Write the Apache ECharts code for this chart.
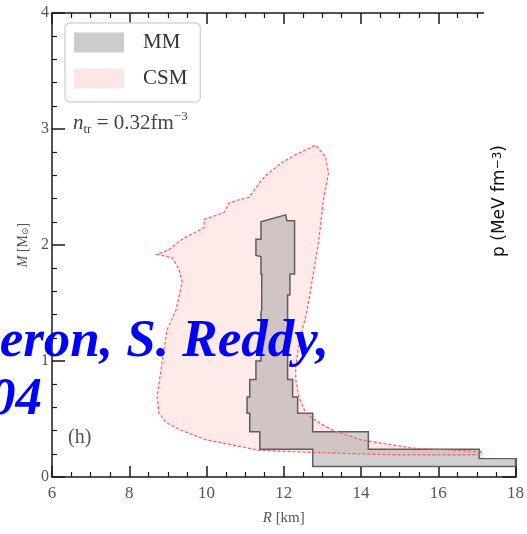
<!DOCTYPE html>
<html>
<head>
<meta charset="utf-8">
<script src="https://cdn.jsdelivr.net/npm/echarts@6/dist/echarts.min.js"></script>
<style>
html,body{margin:0;padding:0;background:#fff;}
#chart{width:527px;height:534px;}
</style>
</head>
<body>
<div id="chart"></div>
<script>
// ---- data (R in km, M in solar masses) ----
const xTicks = [6, 8, 10, 12, 14, 16, 18];
const yTicks = [0, 1, 2, 3, 4];
const seriesNames = ['MM', 'CSM'];

// CSM band boundary (closed polygon)
const csmR = [17.11, 15.30, 14.01, 13.29, 12.90, 12.57, 12.39, 12.31, 12.31, 12.41, 12.59, 12.70, 12.90, 13.03, 13.16, 13.08, 12.83,
              12.31, 11.95, 11.61, 11.43, 11.10, 10.84, 10.58, 10.45, 9.94, 9.94, 9.37, 9.03, 8.72, 9.11, 9.29, 9.37, 9.21,
              8.98, 8.85, 8.72, 8.77, 8.95, 9.29, 9.99, 10.92, 11.35, 12.90, 14.97, 17.11];
const csmM = [0.22, 0.25, 0.32, 0.40, 0.47, 0.55, 0.69, 0.84, 0.95, 1.18, 1.41, 1.62, 2.02, 2.39, 2.62, 2.76, 2.86,
              2.78, 2.71, 2.62, 2.56, 2.41, 2.39, 2.36, 2.28, 2.22, 2.15, 2.05, 1.96, 1.92, 1.89, 1.79, 1.68, 1.44,
              1.27, 0.99, 0.69, 0.55, 0.47, 0.41, 0.32, 0.26, 0.23, 0.21, 0.19, 0.19];

// MM band boundary (closed stepped polygon)
const mmR = [11.41, 12.05, 12.08, 12.28, 12.28, 12.16, 12.16, 12.10, 12.10, 12.23, 12.23, 12.36, 12.36, 12.75, 12.75, 14.19, 14.19,
             17.06, 17.06, 18.00, 18.00, 12.75, 12.75, 11.38, 11.38, 11.12, 11.12, 11.05, 11.05, 11.12, 11.12, 11.28, 11.28,
             11.41, 11.41, 11.43, 11.43, 11.41, 11.41, 11.28, 11.28, 11.41];
const mmM = [2.20, 2.26, 2.21, 2.21, 1.75, 1.75, 1.57, 1.57, 0.84, 0.84, 0.69, 0.69, 0.55, 0.55, 0.39, 0.39, 0.24,
             0.24, 0.16, 0.16, 0.09, 0.09, 0.24, 0.24, 0.39, 0.39, 0.55, 0.55, 0.69, 0.69, 0.84, 0.84, 1.00,
             1.00, 1.42, 1.44, 1.75, 1.75, 1.90, 1.91, 2.05, 2.05];

const serif = '"Liberation Serif", "DejaVu Serif", serif';
const labelColor = '#555';
const axisColor = '#1a1a1a';

function polygonRenderer(R, M, style) {
  return function (params, api) {
    const pts = R.map((r, i) => api.coord([r, M[i]]));
    return { type: 'polygon', shape: { points: pts }, style: style };
  };
}

function axisCommon(extra) {
  return Object.assign({
    type: 'value',
    axisLine: { show: true, onZero: false, lineStyle: { color: axisColor, width: 1.5 } },
    axisTick: { show: true, inside: true, length: 11, lineStyle: { color: axisColor, width: 1.5 } },
    minorTick: { show: true, length: 5, lineStyle: { color: axisColor, width: 1.2 } },
    splitLine: { show: false },
    minorSplitLine: { show: false }
  }, extra);
}

const chart = echarts.init(document.getElementById('chart'), null, { renderer: 'canvas' });

const option = {
  animation: false,
  backgroundColor: '#fff',
  grid: { left: 52, top: 13, width: 464, height: 464, containLabel: false },
  legend: {
    left: 65, top: 23, orient: 'vertical',
    padding: [9, 13, 13, 9],
    itemWidth: 50, itemHeight: 20, itemGap: 15,
    icon: 'rect',
    backgroundColor: 'rgba(255,255,255,0.9)',
    borderColor: '#d6d6d6', borderWidth: 1.5, borderRadius: 5,
    textStyle: { fontFamily: serif, fontSize: 21, color: '#333', padding: [0, 0, 0, 14] },
    data: [
      { name: seriesNames[0], itemStyle: { color: '#cccccc', borderWidth: 0 } },
      { name: seriesNames[1], itemStyle: { color: '#ffe6e6', borderWidth: 0 } }
    ]
  },
  xAxis: [
    axisCommon({
      min: xTicks[0], max: xTicks[xTicks.length - 1], interval: xTicks[1] - xTicks[0],
      position: 'bottom',
      minorTick: { show: true, splitNumber: 4, length: 5, lineStyle: { color: axisColor, width: 1.2 } },
      axisLabel: { show: true, margin: 8, fontFamily: serif, fontSize: 17, color: labelColor, showMinLabel: true, showMaxLabel: true },
      name: '{i|R} [km]', nameLocation: 'middle', nameGap: 34,
      nameTextStyle: { fontFamily: serif, fontSize: 15, color: labelColor, rich: { i: { fontStyle: 'italic', fontFamily: serif, fontSize: 15, color: labelColor } } }
    }),
    axisCommon({
      min: xTicks[0], max: xTicks[xTicks.length - 1], interval: xTicks[1] - xTicks[0],
      position: 'top',
      minorTick: { show: true, splitNumber: 4, length: 5, lineStyle: { color: axisColor, width: 1.2 } },
      axisLabel: { show: false }
    })
  ],
  yAxis: [
    axisCommon({
      min: yTicks[0], max: yTicks[yTicks.length - 1], interval: yTicks[1] - yTicks[0],
      position: 'left',
      axisTick: { show: true, inside: true, length: 13, lineStyle: { color: axisColor, width: 1.5 } },
      minorTick: { show: true, splitNumber: 5, length: 5, lineStyle: { color: axisColor, width: 1.2 } },
      axisLabel: { show: true, margin: 3, fontFamily: serif, fontSize: 16, color: labelColor, showMinLabel: true, showMaxLabel: true },
      name: '{i|M} [M{s|⊙}]', nameLocation: 'middle', nameGap: 22, nameRotate: 90,
      nameTextStyle: { fontFamily: serif, fontSize: 14, color: labelColor,
        rich: { i: { fontStyle: 'italic', fontFamily: serif, fontSize: 14, color: labelColor },
                s: { fontFamily: serif, fontSize: 9, color: labelColor, verticalAlign: 'bottom' } } }
    }),
    axisCommon({
      min: yTicks[0], max: yTicks[yTicks.length - 1], interval: yTicks[1] - yTicks[0],
      position: 'right',
      axisTick: { show: true, inside: true, length: 13, lineStyle: { color: axisColor, width: 1.5 } },
      minorTick: { show: true, splitNumber: 5, length: 5, lineStyle: { color: axisColor, width: 1.2 } },
      axisLabel: { show: false }
    })
  ],
  series: [
    {
      name: seriesNames[1], type: 'custom', xAxisIndex: 0, yAxisIndex: 0, z: 2,
      itemStyle: { color: '#ffe6e6' },
      data: [[csmR[0], csmM[0]]],
      renderItem: polygonRenderer(csmR, csmM, { fill: '#ffeaea', stroke: null, lineWidth: 0 })
    },
    {
      name: seriesNames[0], type: 'custom', xAxisIndex: 0, yAxisIndex: 0, z: 3,
      itemStyle: { color: '#cccccc' },
      data: [[mmR[0], mmM[0]]],
      renderItem: polygonRenderer(mmR, mmM, { fill: 'rgba(150,150,150,0.45)', stroke: '#5f5f5f', lineWidth: 1.5, lineJoin: 'miter' })
    },
    {
      name: seriesNames[1], type: 'custom', xAxisIndex: 0, yAxisIndex: 0, z: 4,
      itemStyle: { color: '#ffe6e6' },
      data: [[csmR[0], csmM[0]]],
      renderItem: polygonRenderer(csmR, csmM, { fill: null, stroke: '#ff5a5a', lineWidth: 1.2, lineDash: [3, 2] })
    }
  ],
  graphic: [
    {
      type: 'text', left: 73, top: 110, z: 50,
      style: {
        text: '{i|n}{sub|tr}{t| = 0.32fm}{sup|−3}',
        rich: {
          i: { fontFamily: serif, fontStyle: 'italic', fontSize: 21, fill: '#444', lineHeight: 26 },
          sub: { fontFamily: serif, fontSize: 13, fill: '#444', verticalAlign: 'bottom', lineHeight: 20 },
          t: { fontFamily: serif, fontSize: 21, fill: '#444', lineHeight: 26 },
          sup: { fontFamily: serif, fontSize: 13, fill: '#444', verticalAlign: 'top', lineHeight: 20 }
        }
      }
    },
    {
      type: 'text', left: 68, top: 428, z: 50,
      style: { text: '(h)', fontFamily: serif, fontSize: 20, fill: '#555' }
    },
    {
      type: 'rect', z: 100,
      shape: { x: 484, y: 0, width: 43, height: 458 },
      style: { fill: '#ffffff' }
    },
    {
      type: 'text', z: 101, x: 500, y: 201, rotation: Math.PI / 2,
      style: {
        text: '{a|p (MeV fm}{b|−3}{a|)}',
        align: 'center', verticalAlign: 'middle',
        rich: {
          a: { fontFamily: '"DejaVu Sans", sans-serif', fontSize: 17, fill: '#111' },
          b: { fontFamily: '"DejaVu Sans", sans-serif', fontSize: 12, fill: '#111', verticalAlign: 'top' }
        }
      }
    },
    {
      type: 'text', z: 102, x: 329, y: 342,
      style: { text: 'eron, S. Reddy,', fontFamily: serif, fontStyle: 'italic', fontWeight: 'bold', fontSize: 53, fill: '#0000ff', align: 'right', verticalAlign: 'middle' }
    },
    {
      type: 'text', z: 102, x: 42, y: 400,
      style: { text: '04', fontFamily: serif, fontStyle: 'italic', fontWeight: 'bold', fontSize: 53, fill: '#0000ff', align: 'right', verticalAlign: 'middle' }
    }
  ]
};

chart.setOption(option);
</script>
</body>
</html>
